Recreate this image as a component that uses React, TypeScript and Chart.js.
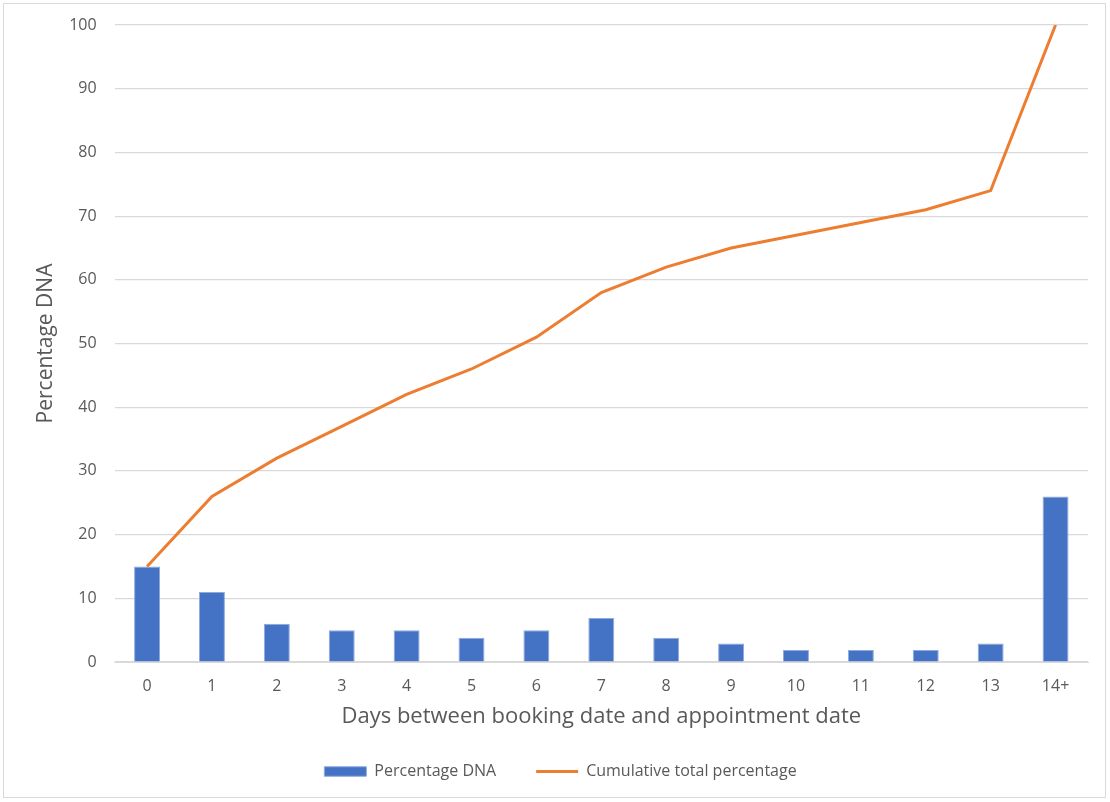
import React, { useEffect, useRef } from "react";
import { Chart, registerables } from "chart.js";

Chart.register(...registerables);

const categories = ["0", "1", "2", "3", "4", "5", "6", "7", "8", "9", "10", "11", "12", "13", "14+"];
const percentageDNA = [15, 11, 6, 5, 5, 3.8, 5, 6.9, 3.8, 2.9, 1.9, 1.9, 1.9, 2.9, 26];
const cumulativeTotal = [15, 26, 32, 37, 42, 46, 51, 58, 62, 65, 67, 69, 71, 74, 100];
const yTicks = [0, 10, 20, 30, 40, 50, 60, 70, 80, 90, 100];

const FONT = "'Open Sans', 'Liberation Sans', sans-serif";
const TEXT = "#595959";
const PAD_LEFT = 33;

export default function App() {
  const ref = useRef<HTMLCanvasElement | null>(null);

  useEffect(() => {
    if (!ref.current) return;
    const chart = new Chart(ref.current, {
      data: {
        labels: categories,
        datasets: [
          {
            type: "line",
            label: "Cumulative total percentage",
            data: cumulativeTotal,
            borderColor: "#ED7D31",
            backgroundColor: "#ED7D31",
            borderWidth: 3,
            pointRadius: 0,
            pointStyle: "line",
            tension: 0,
            order: 1,
          },
          {
            type: "bar",
            label: "Percentage DNA",
            data: percentageDNA,
            backgroundColor: "#4472C4",
            borderColor: "#8FAADC",
            borderWidth: 1,
            barPercentage: 0.4,
            categoryPercentage: 1,
            pointStyle: "rect",
            order: 2,
          },
        ],
      },
      options: {
        animation: false,
        responsive: false,
        maintainAspectRatio: false,
        layout: { padding: { left: PAD_LEFT, right: 22, top: 25, bottom: 12.5 } },
        plugins: {
          tooltip: { enabled: false },
          legend: {
            position: "bottom",
            reverse: true,
            labels: {
              usePointStyle: true,
              pointStyleWidth: 42,
              boxHeight: 9.5,
              padding: 40,
              color: TEXT,
              font: { family: FONT, size: 16 },
            },
          },
        },
        scales: {
          x: {
            grid: { display: false, drawTicks: false },
            border: { display: true, color: "#d9d9d9", width: 1 },
            ticks: { color: TEXT, font: { family: FONT, size: 16 }, padding: 14.4 },
            title: {
              display: true,
              text: "Days between booking date and appointment date",
              color: TEXT,
              font: { family: FONT, size: 22 },
              padding: { top: 0, bottom: -6.2 },
            },
            afterFit: (s: any) => {
              s.height = 61.5;
            },
          },
          y: {
            min: 0,
            max: 100,
            afterBuildTicks: (s: any) => {
              s.ticks = yTicks.map((v) => ({ value: v }));
            },
            grid: { color: "#d9d9d9", lineWidth: 1.2, drawTicks: false },
            border: { display: false },
            ticks: { color: TEXT, font: { family: FONT, size: 16 }, padding: 18 },
            title: {
              display: true,
              text: "Percentage DNA",
              color: TEXT,
              font: { family: FONT, size: 21 },
              padding: { top: 0, bottom: 0 },
            },
            afterFit: (s: any) => {
              s.width = 114.6 - PAD_LEFT;
              s.paddingTop = 0;
              s.paddingBottom = 0;
            },
          },
        },
      },
    });
    return () => chart.destroy();
  }, []);

  return (
    <div style={{ position: "fixed", left: 0, top: 0, width: 1110, height: 802, background: "#fff" }}>
      <div
        style={{
          position: "absolute",
          left: 3,
          top: 3,
          width: 1103,
          height: 795,
          border: "1px solid #d9d9d9",
          boxSizing: "border-box",
        }}
      />
      <canvas ref={ref} width={1110} height={802} style={{ position: "absolute", left: 0, top: 0 }} />
    </div>
  );
}
